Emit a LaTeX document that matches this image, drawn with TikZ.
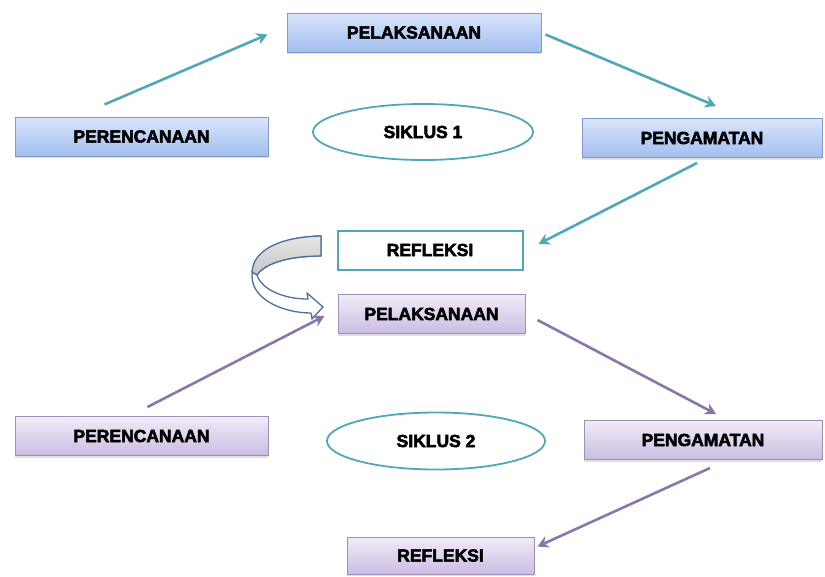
\documentclass[tikz,border=0pt]{standalone}
\usepackage{fontspec}
\newfontfamily\boxfont{Liberation Sans}[BoldFeatures={FakeBold=3}]
\usepackage{tikz}
\usetikzlibrary{arrows.meta,shapes.geometric,shadows}

\definecolor{bluetop}{HTML}{D9E5FB}
\definecolor{bluebot}{HTML}{A2BEF0}
\definecolor{blueline}{HTML}{8199C9}
\definecolor{purtop}{HTML}{F1EBF7}
\definecolor{purbot}{HTML}{CBBDE3}
\definecolor{purline}{HTML}{9E8FB8}
\definecolor{tealline}{HTML}{4FA8B8}
\definecolor{purarrow}{HTML}{8B76AB}
\definecolor{ribbonline}{HTML}{4D6F9C}

\tikzset{
  stagebox/.style={rectangle,draw=blueline,line width=1pt,top color=bluetop,bottom color=bluebot,
    minimum height=39pt,inner sep=0pt,font=\boxfont\bfseries\fontsize{17.5}{17.5}\selectfont,
    drop shadow={shadow xshift=0pt,shadow yshift=-2pt,opacity=0.25}},
  purbox/.style={stagebox,draw=purline,top color=purtop,bottom color=purbot},
  whitebox/.style={rectangle,draw=tealline,line width=2pt,fill=white,
    minimum height=39pt,inner sep=0pt,font=\boxfont\bfseries\fontsize{17.5}{17.5}\selectfont},
  cycleoval/.style={ellipse,draw=tealline,line width=1.8pt,fill=white,inner sep=0pt,
    font=\boxfont\bfseries\fontsize{17.5}{17.5}\selectfont},
  arrT/.style={draw=tealline,line width=2.6pt,-{Stealth[length=11pt,width=12pt]}},
  arrP/.style={arrT,draw=purarrow}
}

\begin{document}
\begin{tikzpicture}[x=1pt,y=-1pt]
%\draw[help lines] (0,0) grid (825,576);
\useasboundingbox (0,0) rectangle (825,576);

% Cycle 1
\node[stagebox,minimum width=254pt] (pl1) at (414,32.5) {PELAKSANAAN};
\node[stagebox,minimum width=253pt] (pr1) at (141.5,136.5) {PERENCANAAN};
\node[stagebox,minimum width=240pt] (pg1) at (702,138) {PENGAMATAN};
\node[cycleoval,minimum width=220pt,minimum height=56pt] (sk1) at (423,132) {SIKLUS 1};
\node[whitebox,minimum width=185pt] (rf1) at (430,250) {REFLEKSI};

\draw[arrT] ([xshift=-37pt,yshift=12pt]pr1.north) -- ([xshift=-19pt,yshift=-2pt]pl1.west);
\draw[arrT] ([xshift=4pt,yshift=-2pt]pl1.east) -- ([xshift=14pt,yshift=12pt]pg1.north);
\draw[arrT] ([xshift=-5pt,yshift=-5pt]pg1.south) -- ([xshift=15pt,yshift=6pt]rf1.east);

% the twisted ribbon arrow from refleksi to the next cycle
\draw[ribbonline,line width=1.3pt,fill=white,line join=round]
  (321,236) .. controls (278,237) and (252,252) .. (252,276)
  .. controls (252,300) and (284,313) .. (311,313) -- (312,319) -- (323,307) -- (307,293) -- (308,299)
  .. controls (284,299) and (262,290) .. (257,275)
  .. controls (266,262) and (292,256) .. (321,256) -- cycle;
\draw[ribbonline,line width=1.3pt,top color=gray!20,bottom color=gray!45,line join=round]
  (321,236) .. controls (278,237) and (253,251) .. (252,272) -- (257,275)
  .. controls (266,262) and (292,256) .. (321,256) -- cycle;

% Cycle 2
\node[purbox,minimum width=187pt] (pl2) at (431.5,314) {PELAKSANAAN};
\node[purbox,minimum width=253pt] (pr2) at (141.5,436) {PERENCANAAN};
\node[purbox,minimum width=238pt] (pg2) at (703,440) {PENGAMATAN};
\node[cycleoval,minimum width=218pt,minimum height=57pt] (sk2) at (436,441) {SIKLUS 2};
\node[purbox,minimum width=187pt,minimum height=37pt] (rf2) at (440.5,555.5) {REFLEKSI};

\draw[arrP] ([xshift=6pt,yshift=9pt]pr2.north) -- ([xshift=-13pt,yshift=-2pt]pl2.west);
\draw[arrP] ([xshift=12pt,yshift=-6pt]pl2.east) -- ([xshift=13pt,yshift=6pt]pg2.north);
\draw[arrP] ([xshift=7pt,yshift=-8pt]pg2.south) -- ([xshift=3pt,yshift=9pt]rf2.east);
\end{tikzpicture}
\end{document}
